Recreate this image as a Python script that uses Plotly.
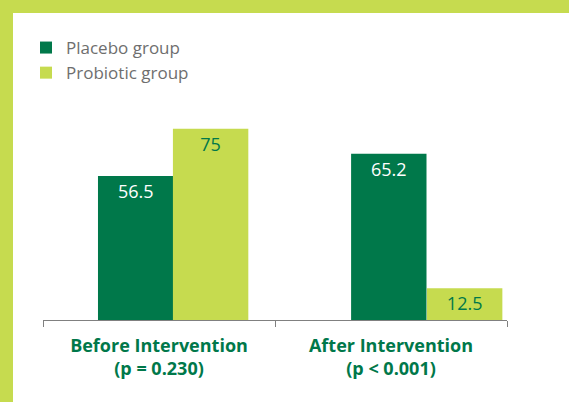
import plotly.graph_objects as go

categories = ["Before Intervention", "After Intervention"]
p_labels = ["(p = 0.230)", "(p < 0.001)"]
placebo = [56.5, 65.2]
probiotic = [75, 12.5]

DARK = "#00784A"
LIGHT = "#C6DB4F"
FONT = "Open Sans"

W, H = 569, 402
L, R, T, B = 43, 62, 116, 82
pw = W - L - R
ph = H - T - B

tick_text = [f"<b>{c}<br>{p}</b>" for c, p in zip(categories, p_labels)]

fig = go.Figure()
fig.add_trace(go.Bar(
    name="Placebo group", x=categories, y=placebo,
    marker=dict(color=DARK, line=dict(width=0)),
    offset=[-0.263, -0.172], width=[0.325, 0.325],
    text=[str(v) for v in placebo], textposition="inside", insidetextanchor="end",
    textfont=dict(color="white", size=18, family=FONT),
))
fig.add_trace(go.Bar(
    name="Probiotic group", x=categories, y=probiotic,
    marker=dict(color=LIGHT, line=dict(width=0)),
    offset=[0.060, 0.155], width=[0.325, 0.325],
    text=[str(v) for v in probiotic], textposition="inside", insidetextanchor="end",
    textfont=dict(color=DARK, size=18, family=FONT),
))

def px_x(p):
    return (p - L) / pw

def px_y(p):
    return (H - B - p) / ph

fig.update_layout(
    width=W, height=H,
    margin=dict(l=L, r=R, t=T, b=B, autoexpand=False),
    paper_bgcolor="white", plot_bgcolor="white",
    font=dict(family=FONT),
    barmode="group",
    showlegend=True,
    hovermode=False,
    uniformtext=dict(minsize=18, mode="show"),
    legend=dict(
        x=26 / W, y=1 - 30 / H, xref="container", yref="container",
        xanchor="left", yanchor="top",
        font=dict(size=17, color="#6E6E6E", family=FONT),
        bgcolor="rgba(0,0,0,0)", tracegroupgap=0, itemclick=False,
        itemwidth=30,
    ),
    xaxis=dict(
        type="category", range=[-0.5, 1.5],
        tickmode="array", tickvals=categories, ticktext=tick_text,
        tickson="boundaries", ticks="outside", ticklen=6, tickcolor="#808080",
        tickangle=0, automargin=False, ticklabelstandoff=9,
        showline=True, linecolor="#808080", linewidth=1,
        showgrid=False, zeroline=False,
        tickfont=dict(size=18, color=DARK, family=FONT),
    ),
    yaxis=dict(range=[0, 80], visible=False, showgrid=False, zeroline=False),
    shapes=[
        dict(type="rect", xref="paper", yref="paper",
             x0=px_x(0), x1=px_x(W), y0=px_y(0), y1=px_y(13),
             fillcolor=LIGHT, line=dict(width=0), layer="above"),
        dict(type="rect", xref="paper", yref="paper",
             x0=px_x(0), x1=px_x(13), y0=px_y(0), y1=px_y(H),
             fillcolor=LIGHT, line=dict(width=0), layer="above"),
    ],
)

fig.write_html(
    "out.html",
    config={"displayModeBar": False, "staticPlot": False},
    post_script="document.body.style.margin='0';document.body.style.padding='0';",
)
